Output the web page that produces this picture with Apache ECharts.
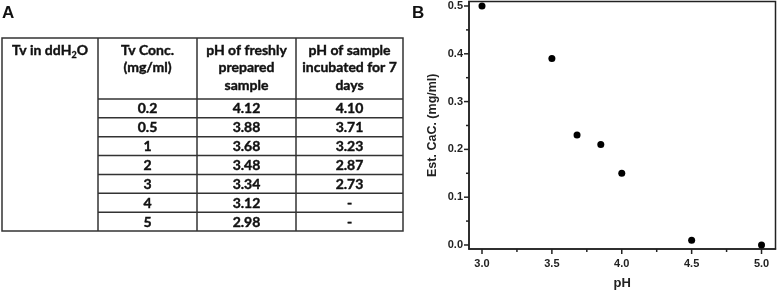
<!DOCTYPE html>
<html>
<head>
<meta charset="utf-8">
<script src="https://cdn.jsdelivr.net/npm/echarts@6/dist/echarts.min.js"></script>
<style>
html, body { margin: 0; padding: 0; background: #fff; }
#main { width: 777px; height: 290px; }
</style>
</head>
<body>
<div id="main"></div>
<script>
// table (panel A)
var concList = ['0.2', '0.5', '1', '2', '3', '4', '5'];
var freshPH = ['4.12', '3.88', '3.68', '3.48', '3.34', '3.12', '2.98'];
var weekPH = ['4.10', '3.71', '3.23', '2.87', '2.73', '-', '-'];
var headers = ['Tv Conc.\n(mg/ml)', 'pH of freshly\nprepared\nsample', 'pH of sample\nincubated for 7\ndays'];

// scatter (panel B)
var plotPH = [3.0, 3.5, 3.68, 3.85, 4.0, 4.5, 5.0];
var plotCaC = [0.50, 0.39, 0.23, 0.21, 0.15, 0.01, 0.00];
var yTicks = [0, 0.1, 0.2, 0.3, 0.4, 0.5];
var yMinor = [0.05, 0.15, 0.25, 0.35, 0.45];
var xTicks = [3.0, 3.5, 4.0, 4.5, 5.0];
var xMinor = [3.25, 3.75, 4.25, 4.75];

var xMin = 2.907, xMax = 5.1;
var yMin = -0.0084, yMax = 0.5094;

var myChart = echarts.init(document.getElementById('main'));

var tFont = 'Lato';
var tSize = 14;
var lineCol = '#333';
var tLeft = 2, tTop = 38, tRight = 403, tBottom = 231;
var colX = [tLeft, 98, 197, 296, tRight];
var headBottom = 99;
var rowH = (tBottom - headBottom) / concList.length;

var els = [];
els.push({
    type: 'rect',
    shape: { x: tLeft, y: tTop, width: tRight - tLeft, height: tBottom - tTop },
    style: { fill: 'none', stroke: lineCol, lineWidth: 1.5 }
});
for (var c = 1; c < 4; c++) {
    els.push({
        type: 'line',
        shape: { x1: colX[c], y1: tTop, x2: colX[c], y2: tBottom },
        style: { stroke: lineCol, lineWidth: 1.5 }
    });
}
for (var r = 0; r < concList.length; r++) {
    var yy = headBottom + r * rowH;
    els.push({
        type: 'line',
        shape: { x1: colX[1], y1: yy, x2: tRight, y2: yy },
        style: { stroke: lineCol, lineWidth: 1.5 }
    });
}
// header of first column
els.push({
    type: 'text',
    x: (colX[0] + colX[1]) / 2,
    y: 41.5,
    style: {
        text: '{b|Tv in ddH}{s|2}{b|O}',
        align: 'center',
        verticalAlign: 'top',
        rich: {
            b: { fontFamily: tFont, fontWeight: 'bold', fontSize: tSize, fill: '#111', stroke: '#111', lineWidth: 0.4, lineHeight: 17.5 },
            s: { fontFamily: tFont, fontWeight: 'bold', fontSize: 9, fill: '#111', stroke: '#111', lineWidth: 0.3, padding: [9, 0, 0, 0] }
        }
    }
});
for (var h = 0; h < headers.length; h++) {
    els.push({
        type: 'text',
        x: (colX[h + 1] + colX[h + 2]) / 2,
        y: 41.5,
        style: {
            text: headers[h],
            align: 'center',
            verticalAlign: 'top',
            fontFamily: tFont,
            fontWeight: 'bold',
            fontSize: tSize,
            lineHeight: 17.5,
            fill: '#111',
            stroke: '#111',
            lineWidth: 0.4
        }
    });
}
var cols = [concList, freshPH, weekPH];
for (var k = 0; k < cols.length; k++) {
    for (var i = 0; i < cols[k].length; i++) {
        els.push({
            type: 'text',
            x: (colX[k + 1] + colX[k + 2]) / 2,
            y: headBottom + (i + 0.5) * rowH + 0.5,
            style: {
                text: cols[k][i],
                align: 'center',
                verticalAlign: 'middle',
                fontFamily: tFont,
                fontWeight: 'bold',
                fontSize: tSize,
                fill: '#111',
                stroke: '#111',
                lineWidth: 0.4
            }
        });
    }
}
// panel letters
els.push({
    type: 'text', x: 2, y: 5,
    style: { text: 'A', fontFamily: 'Liberation Sans', fontWeight: 'bold', fontSize: 17, fill: '#111' }
});
els.push({
    type: 'text', x: 412, y: 5,
    style: { text: 'B', fontFamily: 'Liberation Sans', fontWeight: 'bold', fontSize: 17, fill: '#111' }
});

// tick marks: [x, y, orientation (0 = x axis, 1 = y axis), length]
var tickData = [];
xTicks.forEach(function (v) { tickData.push([v, yMin, 0, 5]); });
xMinor.forEach(function (v) { tickData.push([v, yMin, 0, 3]); });
yTicks.forEach(function (v) { tickData.push([xMin, v, 1, 5]); });
yMinor.forEach(function (v) { tickData.push([xMin, v, 1, 3]); });

var axisFont = 'Liberation Sans';

option = {
    animation: false,
    backgroundColor: '#fff',
    graphic: { elements: els },
    grid: {
        left: 469,
        right: 1.5,
        top: 1.5,
        bottom: 41,
        show: true,
        borderColor: '#222',
        borderWidth: 1.5,
        outerBoundsMode: 'none'
    },
    xAxis: {
        type: 'value',
        min: xMin,
        max: xMax,
        splitLine: { show: false },
        axisLine: { show: true, onZero: false, lineStyle: { color: '#222', width: 1.5 } },
        axisTick: { show: false },
        axisLabel: {
            customValues: xTicks,
            margin: 9,
            fontFamily: axisFont, fontWeight: 'bold', fontSize: 11, color: '#222',
            formatter: function (v) { return v.toFixed(1); }
        },
        name: 'pH',
        nameLocation: 'middle',
        nameGap: 28,
        nameTextStyle: { fontFamily: axisFont, fontWeight: 'bold', fontSize: 13, color: '#222' }
    },
    yAxis: {
        type: 'value',
        min: yMin,
        max: yMax,
        splitLine: { show: false },
        axisLine: { show: true, onZero: false, lineStyle: { color: '#222', width: 1.5 } },
        axisTick: { show: false },
        axisLabel: {
            customValues: yTicks,
            margin: 6,
            fontFamily: axisFont, fontWeight: 'bold', fontSize: 11, color: '#222',
            formatter: function (v) { return v.toFixed(1); }
        },
        name: 'Est. CaC. (mg/ml)',
        nameLocation: 'middle',
        nameGap: 30,
        nameTextStyle: { fontFamily: axisFont, fontWeight: 'bold', fontSize: 12.5, color: '#222' }
    },
    series: [{
        type: 'custom',
        silent: true,
        clip: false,
        z: 5,
        data: tickData,
        renderItem: function (params, api) {
            var t = tickData[params.dataIndex];
            var p = api.coord([t[0], t[1]]);
            var len = t[3];
            var shape = t[2] === 0
                ? { x1: p[0], y1: p[1], x2: p[0], y2: p[1] + len }
                : { x1: p[0] - len, y1: p[1], x2: p[0], y2: p[1] };
            return { type: 'line', shape: shape, style: { stroke: '#222', lineWidth: 1.5 } };
        }
    }, {
        type: 'scatter',
        clip: false,
        symbolSize: 7,
        itemStyle: { color: '#000', opacity: 1 },
        data: plotPH.map(function (p, i) { return [p, plotCaC[i]]; })
    }]
};

myChart.setOption(option);
</script>
</body>
</html>
